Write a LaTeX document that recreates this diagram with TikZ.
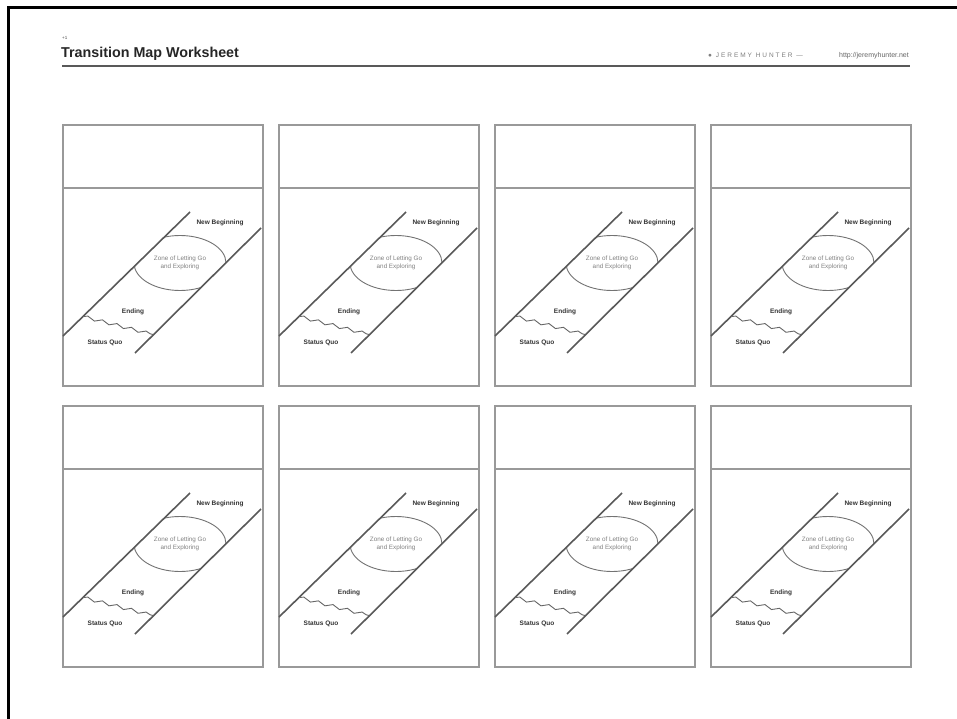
\documentclass[tikz,border=0pt]{standalone}
\usepackage{fontspec}
\setmainfont{Liberation Sans}
\usetikzlibrary{decorations.pathmorphing}
\tikzset{
  panelbox/.style={draw=black!40, line width=1.6pt},
  diagline/.style={draw=black!65, line width=1.6pt},
  zoneoval/.style={draw=black!55, line width=0.9pt},
  wavy/.style={draw=black!60, line width=0.9pt, decorate,
    decoration={snake, amplitude=1.6pt, segment length=15pt}},
  lbl/.style={font=\fontsize{6.5}{7}\selectfont\bfseries, text=black!80, inner sep=0pt},
  zonelbl/.style={font=\fontsize{6.3}{7.5}\selectfont, text=black!50, align=center, inner sep=0pt},
}
\newcommand\tpanel[3]{%
\begin{scope}[shift={(#1,#2)}]
  \node[panelbox, minimum width=200pt, minimum height=261pt, anchor=north west,
        inner sep=0pt] (#3box) at (0,0) {};
  \coordinate (#3dl) at (0,64); \coordinate (#3dr) at (200,64);
  \draw[panelbox] (#3dl) -- (#3dr);
  \coordinate (#3pa) at (1,212);  \coordinate (#3pb) at (128,88);
  \coordinate (#3qa) at (73,229); \coordinate (#3qb) at (199,104);
  \begin{scope}
    \clip (#3pa) -- (#3pb) -- (#3qb) -- (#3qa) -- cycle;
    \draw[zoneoval] (118,139) ellipse [x radius=46, y radius=27.5];
  \end{scope}
  \draw[diagline] (#3pa) -- (#3pb);
  \draw[diagline] (#3qa) -- (#3qb);
  \coordinate (#3wa) at (21,192.5); \coordinate (#3wb) at (91,210.5);
  \draw[wavy] (#3wa) -- (#3wb);
  \node[zonelbl] (#3zone) at (118,139) {Zone of Letting Go\\and Exploring};
  \node[lbl] (#3new) at (158,99) {New Beginning};
  \node[lbl] (#3end) at (71,188) {Ending};
  \node[lbl] (#3sq) at (43,219) {Status Quo};
\end{scope}}
\begin{document}
\begin{tikzpicture}[x=1pt,y=-1pt]
  \useasboundingbox (0,0) rectangle (957,719);
  \fill[white] (0,0) rectangle (957,719);
  % outer frame (top and left)
  \coordinate (ftr) at (957,7.5); \coordinate (ftl) at (8.5,7.5); \coordinate (fbl) at (8.5,719);
  \draw[black, line width=2.2pt] (ftr) -- (ftl) -- (fbl);
  % header
  \node[anchor=south west, inner sep=0pt, font=\fontsize{4.5}{5}\selectfont, text=black!70] (ver) at (62,40) {+1};
  \node[anchor=base west, inner sep=0pt, font=\fontsize{14.3}{16}\selectfont\bfseries, text=black!85] (title) at (61,58) {Transition Map Worksheet};
  \coordinate (rl) at (62,66); \coordinate (rr) at (910,66);
  \draw[black!65, line width=2pt] (rl) -- (rr);
  \node[anchor=base west, inner sep=0pt, font=\fontsize{6.5}{7}\selectfont\addfontfeature{LetterSpace=30}, text=black!50] (author) at (708,57.5) {● JEREMY HUNTER —};
  \node[anchor=base east, inner sep=0pt, font=\fontsize{7}{8}\selectfont, text=black!60] (url) at (909,57.5) {http://jeremyhunter.net};
  % panels
  \tpanel{62}{124}{A}
  \tpanel{278}{124}{B}
  \tpanel{494}{124}{C}
  \tpanel{710}{124}{D}
  \tpanel{62}{405}{E}
  \tpanel{278}{405}{F}
  \tpanel{494}{405}{G}
  \tpanel{710}{405}{H}
\end{tikzpicture}
\end{document}
